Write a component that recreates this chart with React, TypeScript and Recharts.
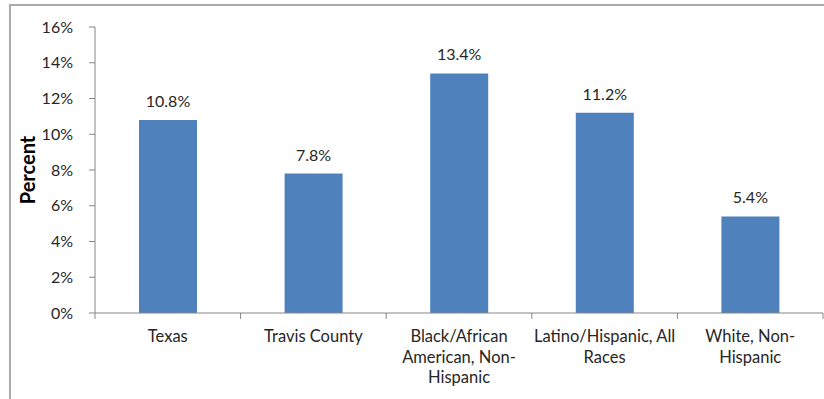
import { BarChart, Bar, XAxis, YAxis, LabelList } from 'recharts';

const categories = [
  'Texas',
  'Travis County',
  'Black/African American, Non-Hispanic',
  'Latino/Hispanic, All Races',
  'White, Non-Hispanic',
];

// wrapped tick text, one entry per category
const tickLines = [
  ['Texas'],
  ['Travis County'],
  ['Black/African', 'American, Non-', 'Hispanic'],
  ['Latino/Hispanic, All', 'Races'],
  ['White, Non-', 'Hispanic'],
];

const percents = [10.8, 7.8, 13.4, 11.2, 5.4];

const yTicks = [0, 2, 4, 6, 8, 10, 12, 14, 16];

const data = categories.map((name, i) => ({ name, value: percents[i] }));

const FONT = 'Lato, "Open Sans", sans-serif';
const TEXT = '#262626';
const AXIS = '#868686';
const HALF_BAND = 728 / categories.length / 2;

function CategoryTick(props: any) {
  const { x, y, index } = props;
  const lines = tickLines[index] ?? [];
  // y sits tickSize + tickMargin below the axis line
  const axisY = y - 8;
  return (
    <g>
      <line x1={x - HALF_BAND} y1={axisY} x2={x - HALF_BAND} y2={axisY + 6} stroke={AXIS} />
      {index === categories.length - 1 && (
        <line x1={x + HALF_BAND} y1={axisY} x2={x + HALF_BAND} y2={axisY + 6} stroke={AXIS} />
      )}
      <text x={x} y={axisY + 29} textAnchor="middle" fill={TEXT} fontSize={16.5} fontFamily={FONT}>
        {lines.map((line, i) => (
          <tspan key={i} x={x} dy={i === 0 ? 0 : 20.5}>
            {line}
          </tspan>
        ))}
      </text>
    </g>
  );
}

export default function App() {
  return (
    <div
      style={{
        position: 'absolute',
        left: 0,
        top: 0,
        width: 824,
        height: 399,
        overflow: 'hidden',
        background: '#fff',
      }}
    >
      <div
        style={{
          position: 'absolute',
          left: 9,
          top: 4,
          width: 900,
          height: 500,
          border: '2px solid #ababab',
        }}
      />
      <div style={{ position: 'absolute', left: 0, top: 0 }}>
        <BarChart
          width={824}
          height={399}
          data={data}
          margin={{ top: 27, right: 1, bottom: 0, left: 0 }}
        >
          <YAxis
            width={95}
            domain={[0, 16]}
            ticks={yTicks}
            interval={0}
            tickFormatter={(v: number) => `${v}%`}
            axisLine={{ stroke: AXIS }}
            tickLine={{ stroke: AXIS }}
            tickSize={6}
            tickMargin={16}
            tick={{ fill: TEXT, fontSize: 16, fontFamily: FONT }}
            label={{
              value: 'Percent',
              angle: -90,
              position: 'insideLeft',
              offset: 28,
              style: {
                fill: '#000',
                fontSize: 20,
                fontWeight: 700,
                fontFamily: FONT,
                textAnchor: 'middle',
              },
            }}
          />
          <XAxis
            dataKey="name"
            height={86}
            axisLine={{ stroke: AXIS }}
            tickLine={false}
            interval={0}
            tick={<CategoryTick />}
          />
          <Bar dataKey="value" fill="#4f81bd" isAnimationActive={false} barSize={58}>
            <LabelList
              dataKey="value"
              position="top"
              offset={13}
              formatter={(v: any) => `${Number(v).toFixed(1)}%`}
              style={{ fill: TEXT, fontSize: 16, fontFamily: FONT }}
            />
          </Bar>
        </BarChart>
      </div>
    </div>
  );
}
